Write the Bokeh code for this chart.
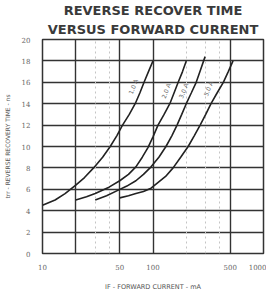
from bokeh.plotting import figure
from bokeh.models import FixedTicker, Grid, Title, ColumnDataSource
from bokeh.core.properties import value
from bokeh.embed import file_html
from bokeh.resources import INLINE

# ---- data ----
c1_x = [10, 13, 16, 20, 24, 29, 35, 41, 47, 53, 61, 69, 76, 83, 91, 100]
c1_y = [4.5, 5.0, 5.6, 6.4, 7.1, 8.0, 9.0, 10.0, 11.0, 12.0, 13.0, 14.0, 15.0, 16.0, 17.0, 18.0]
c2_x = [20, 25, 30, 40, 50, 60, 70, 80, 90, 100, 111, 126, 142, 155, 169, 185, 200]
c2_y = [5.0, 5.3, 5.6, 6.2, 6.8, 7.4, 8.1, 9.0, 9.9, 10.9, 12.0, 13.0, 14.0, 15.0, 16.0, 17.0, 18.0]
c3_x = [30, 38, 48, 58, 70, 82, 96, 113, 131, 148, 165, 182, 200, 222, 246, 270, 296]
c3_y = [5.0, 5.4, 5.9, 6.3, 6.8, 7.4, 8.1, 9.0, 10.0, 11.0, 12.0, 13.0, 14.0, 15.0, 16.0, 17.2, 18.4]
c4_x = [50, 60, 70, 82, 96, 110, 130, 152, 178, 208, 236, 267, 300, 335, 380, 433, 480, 530]
c4_y = [5.2, 5.4, 5.6, 5.8, 6.1, 6.6, 7.2, 8.0, 9.0, 10.0, 11.0, 12.0, 13.0, 14.0, 15.0, 16.0, 17.0, 18.0]

label_text = ["1.0 A", "2.0 A", "3.0 A", "5.0 A"]
label_x = [66, 131, 188, 316]
label_y = [15.6, 15.2, 15.2, 15.4]

x_tick_vals = [10, 50, 100, 500, 1000]
y_tick_vals = [0, 2, 4, 6, 8, 10, 12, 14, 16, 18, 20]
x_grid_major = [20, 50, 100, 500]
x_grid_minor = [30, 40, 200, 300, 400]

title_1 = "REVERSE RECOVER TIME"
title_2 = "VERSUS FORWARD CURRENT"
x_label = "IF - FORWARD CURRENT - mA"
y_label = "trr - REVERSE RECOVERY TIME - ns"

# ---- figure ----
p = figure(x_axis_type="log", x_range=(10, 1000), y_range=(0, 20),
           frame_width=221, frame_height=214,
           min_border_left=41, min_border_right=3,
           min_border_top=38, min_border_bottom=33,
           output_backend="svg", toolbar_location=None)
p.background_fill_color = "white"
p.border_fill_color = "white"
p.outline_line_color = "#333333"
p.outline_line_width = 1.5

p.title.text = title_1
p.title.align = "center"
p.title.text_font = "DejaVu Sans"
p.title.text_font_size = "13px"
p.title.text_font_style = "bold"
p.title.text_color = "#3a3a3a"
p.title.standoff = 0
t2 = Title(text=title_2, align="center", text_font="DejaVu Sans",
           text_font_size="13px", text_font_style="bold",
           text_color="#3a3a3a", standoff=5)
p.add_layout(t2, "above")

# axes
for ax in (p.xaxis[0], p.yaxis[0]):
    ax.axis_line_color = None
    ax.major_tick_line_color = None
    ax.minor_tick_line_color = None
    ax.major_label_text_font = "DejaVu Serif"
    ax.major_label_text_font_size = "7px"
    ax.major_label_text_color = "#666666"
    ax.axis_label_text_font = "DejaVu Sans"
    ax.axis_label_text_font_style = "normal"
    ax.axis_label_text_color = "#555555"

p.xaxis.ticker = FixedTicker(ticks=x_tick_vals)
p.xaxis.major_label_standoff = 4
p.xaxis.axis_label = x_label
p.xaxis.axis_label_text_font_size = "6.5px"
p.xaxis.axis_label_standoff = 10

p.yaxis.ticker = FixedTicker(ticks=y_tick_vals)
p.yaxis.major_label_standoff = 6
p.yaxis.axis_label = y_label
p.yaxis.axis_label_text_font_size = "6px"
p.yaxis.axis_label_standoff = 8

# grids
p.ygrid.ticker = FixedTicker(ticks=y_tick_vals)
p.ygrid.grid_line_color = "#333333"
p.ygrid.grid_line_width = 1.6
p.xgrid.ticker = FixedTicker(ticks=x_grid_major)
p.xgrid.grid_line_color = "#333333"
p.xgrid.grid_line_width = 1.4
minor = Grid(dimension=0, ticker=FixedTicker(ticks=x_grid_minor),
             grid_line_color="#c4c4c4", grid_line_width=1,
             grid_line_dash="2 3")
p.add_layout(minor)

# curves
for xs, ys in ((c1_x, c1_y), (c2_x, c2_y), (c3_x, c3_y), (c4_x, c4_y)):
    p.line(xs, ys, line_color="#222222", line_width=1.6)

src = ColumnDataSource(dict(x=label_x, y=label_y, t=label_text))
p.text(x="x", y="y", text="t", source=src, angle=1.2,
       text_font=value("DejaVu Sans"), text_font_size="6px",
       text_color="#666666", text_align="center", text_baseline="middle")

open("out.html", "w").write(file_html(p, INLINE))
